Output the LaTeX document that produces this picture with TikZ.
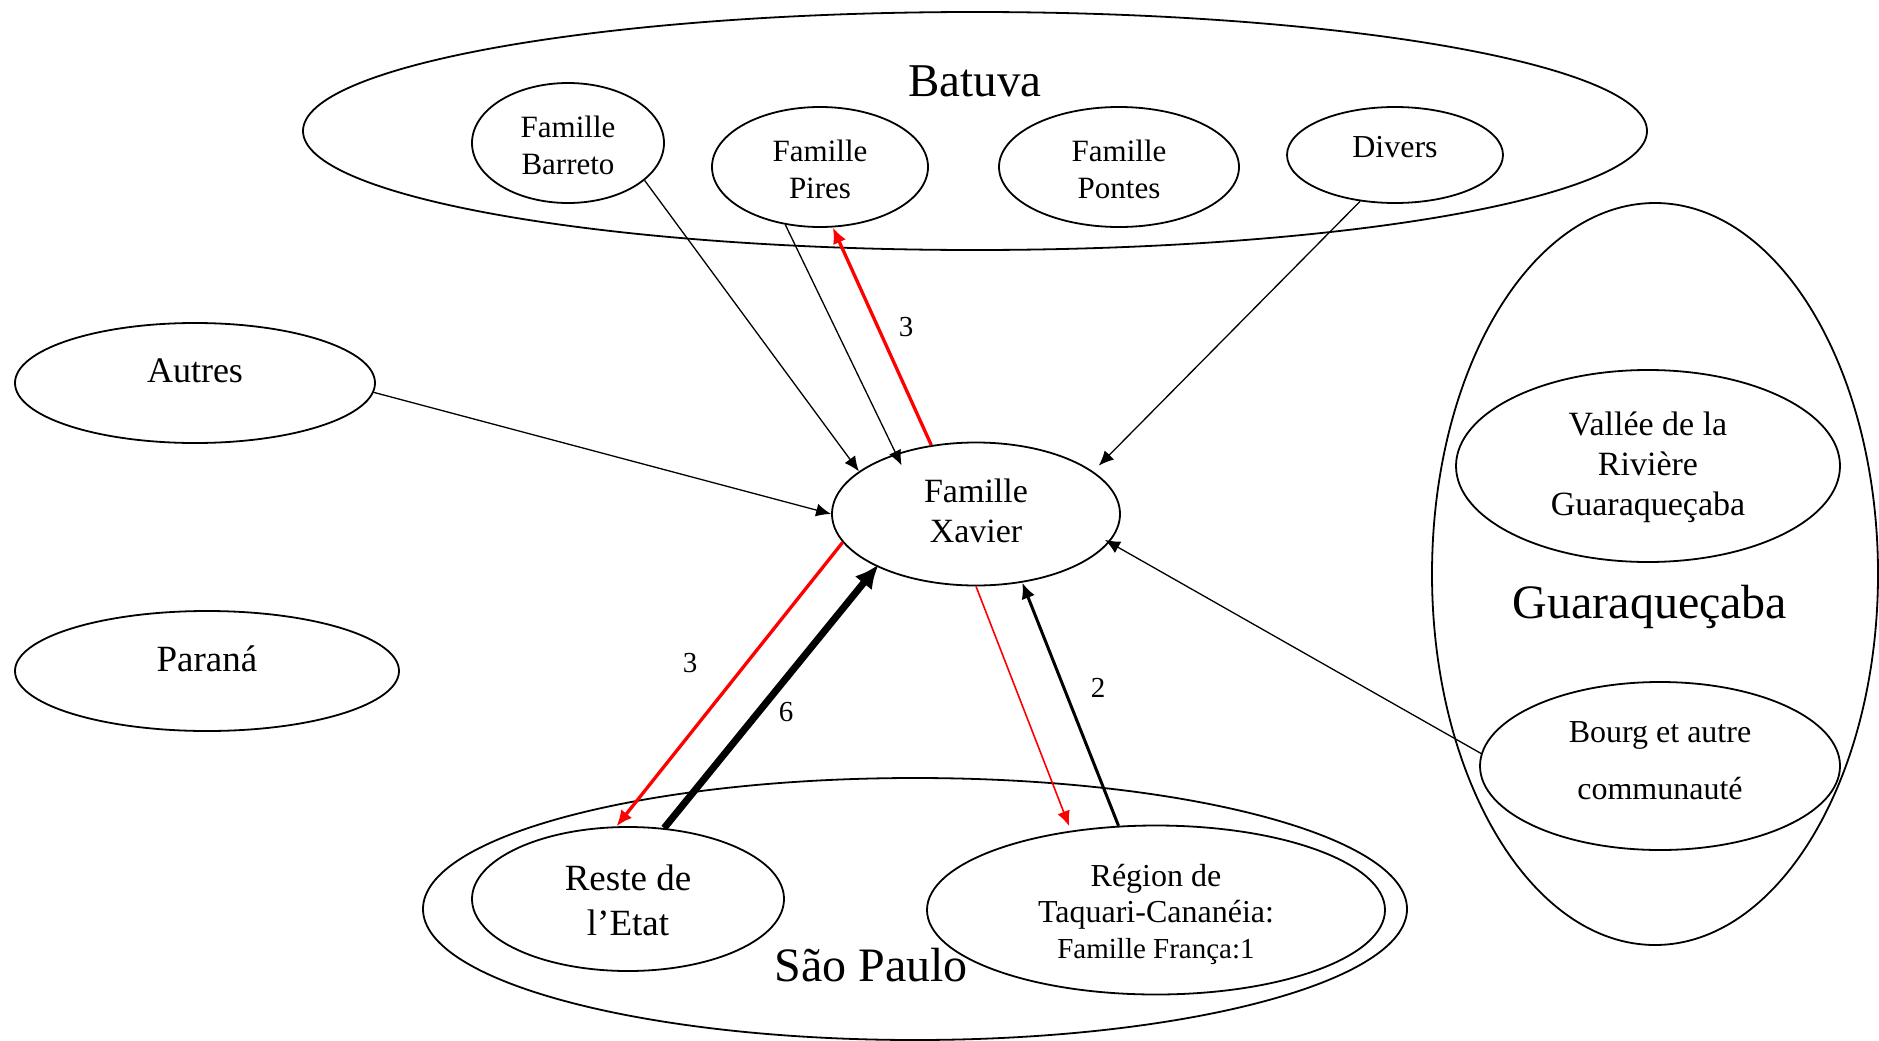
\documentclass[tikz,border=0pt]{standalone}
\usepackage{fontspec}
\setmainfont{Liberation Serif}
\usetikzlibrary{shapes.geometric,arrows.meta}
\begin{document}
\begin{tikzpicture}[x=1pt,y=-1pt,
  ell/.style={draw, ellipse, line width=1.8pt, inner sep=0pt},
  lbl/.style={align=center, inner sep=0pt},
  thinarr/.style={line width=1.3pt, -{Latex[length=15pt,width=13pt]}},
  redmed/.style={draw=red, line width=3.3pt, -{Latex[length=16pt,width=14pt]}},
  redthin/.style={draw=red, line width=1.6pt, -{Latex[length=15pt,width=13pt]}},
  blackmed/.style={line width=3pt, -{Latex[length=16pt,width=14pt]}},
  thickarr/.style={line width=7pt, -{Latex[length=24pt,width=22pt]}},
  num/.style={inner sep=0pt, font=\fontsize{29}{34}\selectfont}
]
\useasboundingbox (0,0) rectangle (1879,1041);

% containers
\node[ell, minimum width=1344pt, minimum height=238pt] (bat) at (975,131) {};
\node[ell, minimum width=446pt, minimum height=742pt] (gua) at (1655,574) {};
\node[ell, minimum width=984pt, minimum height=262pt] (sp) at (915,909) {};

% inner ellipses
\node[ell, minimum width=192pt, minimum height=120pt] (bar) at (568,143) {};
\node[ell, minimum width=216pt, minimum height=120pt] (pir) at (820,167) {};
\node[ell, minimum width=240pt, minimum height=120pt] (pon) at (1119,167) {};
\node[ell, minimum width=216pt, minimum height=96pt] (div) at (1395,155) {};
\node[ell, minimum width=360pt, minimum height=120pt] (aut) at (195,383) {};
\node[ell, minimum width=384pt, minimum height=120pt] (par) at (207,671) {};
\node[ell, minimum width=288pt, minimum height=143pt] (xav) at (976,514) {};
\node[ell, minimum width=384pt, minimum height=192pt] (val) at (1648,466) {};
\node[ell, minimum width=360pt, minimum height=168pt] (bou) at (1660,766) {};
\node[ell, minimum width=312pt, minimum height=144pt] (res) at (628,899) {};
\node[ell, minimum width=458pt, minimum height=169pt] (reg) at (1156,910) {};

% labels
\node[lbl, font=\fontsize{47}{54}\selectfont] (batl) at (975,81) {Batuva};
\node[lbl, font=\fontsize{31}{37}\selectfont] (barl) at (568,145) {Famille\\Barreto};
\node[lbl, font=\fontsize{31}{37}\selectfont] (pirl) at (820,169) {Famille\\Pires};
\node[lbl, font=\fontsize{31}{37}\selectfont] (ponl) at (1119,169) {Famille\\Pontes};
\node[lbl, font=\fontsize{32}{37}\selectfont] (divl) at (1395,147) {Divers};
\node[lbl, font=\fontsize{36}{42}\selectfont] (autl) at (195,371) {Autres};
\node[lbl, font=\fontsize{37}{42}\selectfont] (parl) at (207,659) {Paraná};
\node[lbl, font=\fontsize{34}{40}\selectfont] (xavl) at (976,511) {Famille\\Xavier};
\node[lbl, font=\fontsize{34}{40}\selectfont] (vall) at (1648,467) {Vallée de la\\Rivière\\Guaraqueçaba};
\node[lbl, font=\fontsize{48}{56}\selectfont] (gual) at (1650,607) {Guaraqueçaba};
\node[lbl, font=\fontsize{32}{57}\selectfont] (boul) at (1660,761) {Bourg et autre\\communauté};
\node[lbl, font=\fontsize{37}{45}\selectfont] (resl) at (628,900) {Reste de\\l’Etat};
\node[lbl, font=\fontsize{32}{36}\selectfont] (regl) at (1156,914) {Région de\\Taquari-Cananéia:\\{\fontsize{29}{36}\selectfont Famille França:1}};
\node[lbl, font=\fontsize{48}{56}\selectfont] (spl) at (871,965) {São Paulo};

% connectors
\draw[thinarr] (bar.-26) -- (xav.160);
\draw[thinarr, shorten >=-13pt] (pir.-121) -- (xav.143);
\draw[redmed] (xav.123) -- (pir.-78);
\draw[thinarr, shorten >=8pt] (div.-127) -- (xav.20);
\draw[thinarr] (aut.-3.5) -- (xav.180);
\draw[thinarr, shorten >=-5pt] (bou.176) -- (xav.-12);
\draw[redmed] (xav.-168) -- (res.99);
\draw[thickarr, shorten >=-3pt] (res.63) -- (xav.-152);
\draw[redthin, shorten >=5pt] (xav.-90) -- (reg.137);
\draw[blackmed] (reg.114) -- (xav.-56);

% numbers
\node[num] (n1) at (906,327) {3};
\node[num] (n2) at (690,663) {3};
\node[num] (n3) at (786,712) {6};
\node[num] (n4) at (1098,688) {2};
\end{tikzpicture}
\end{document}
